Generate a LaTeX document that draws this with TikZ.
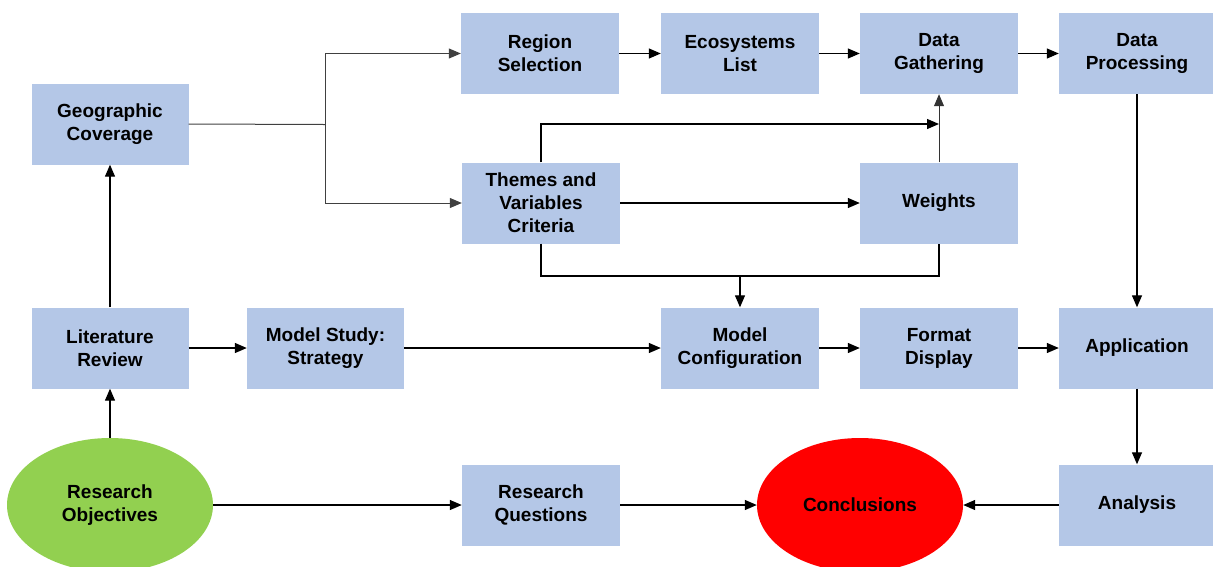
\documentclass[tikz,border=0pt]{standalone}
\usepackage{fontspec}
\setmainfont{Liberation Sans}
\usetikzlibrary{arrows.meta,shapes.geometric}
\definecolor{boxblue}{HTML}{B4C7E7}
\definecolor{objgreen}{HTML}{92D050}
\definecolor{conred}{HTML}{FF0000}
\begin{document}
\begin{tikzpicture}[x=1pt,y=-1pt,
  every node/.style={font=\fontsize{19}{23}\selectfont\bfseries, text=black, align=center, inner sep=0pt},
  boxnode/.style={rectangle, fill=boxblue, minimum width=158pt, minimum height=81pt},
  ovalnode/.style={ellipse, minimum width=206pt, minimum height=134pt},
  tip/.style={-{Triangle[length=12pt,width=10pt]}},
  conn/.style={line width=1.3pt, draw=black},
  arr/.style={conn, tip},
  thin/.style={line width=1pt, draw=black!75}
]
\useasboundingbox (0,0) rectangle (1213,566);
% nodes
\node[boxnode] (rs) at (540,53.5) {Region\\Selection};
\node[boxnode] (el) at (740,53.5) {Ecosystems\\List};
\node[boxnode] (dg) at (939,53.5) {Data\\Gathering};
\node[boxnode, minimum width=156pt] (dp) at (1137,53.5) {Data\\Processing};
\node[boxnode, minimum width=157pt] (gc) at (110,124) {Geographic\\Coverage};
\node[boxnode] (th) at (541,203) {Themes and\\Variables\\Criteria};
\node[boxnode] (wt) at (939,203) {Weights};
\node[boxnode, minimum width=157pt] (lr) at (110,348) {Literature\\Review};
\node[boxnode, minimum width=157pt] (ms) at (325.5,348) {Model Study:\\Strategy};
\node[boxnode] (mc) at (740,348) {Model\\Configuration};
\node[boxnode] (fd) at (939,348) {Format\\Display};
\node[boxnode, minimum width=156pt] (ap) at (1137,348) {Application};
\node[ovalnode, fill=objgreen] (ro) at (110,505) {Research\\Objectives};
\node[boxnode] (rq) at (541,505) {Research\\Questions};
\node[ovalnode, fill=conred] (co) at (860,505) {Conclusions};
\node[boxnode, minimum width=156pt] (an) at (1137,505) {Analysis};
% helper coordinates
\coordinate (j) at (325,124.5);
\coordinate (k) at (939,124);
\coordinate (b1) at (541,276);
\coordinate (b2) at (939,276);
\coordinate (bm) at (740,276);
% connectors
\draw[thin] (gc.east) -- (j);
\draw[thin, tip] (j) |- (rs.west);
\draw[thin, tip] (j) |- (th.west);
\draw[arr] (rs) -- (el);
\draw[arr] (el) -- (dg);
\draw[arr] (dg) -- (dp);
\draw[arr] (th.north) |- (k);
\draw[arr, line width=1pt, draw=black!80] (wt.north) -- (dg.south);
\draw[arr] (th.east) -- (wt.west);
\draw[conn] (th.south) -- (b1) -- (b2) -- (wt.south);
\draw[arr] (bm) -- (mc.north);
\draw[arr] (dp.south) -- (ap.north);
\draw[arr] (lr) -- (ms);
\draw[arr] (ms) -- (mc);
\draw[arr] (mc) -- (fd);
\draw[arr] (fd) -- (ap);
\draw[arr] (ap.south) -- (an.north);
\draw[arr] (an.west) -- (co.east);
\draw[arr] (ro.east) -- (rq.west);
\draw[arr] (rq.east) -- (co.west);
\draw[arr] (ro.north) -- (lr.south);
\draw[arr] (lr.north) -- (gc.south);
\end{tikzpicture}
\end{document}
